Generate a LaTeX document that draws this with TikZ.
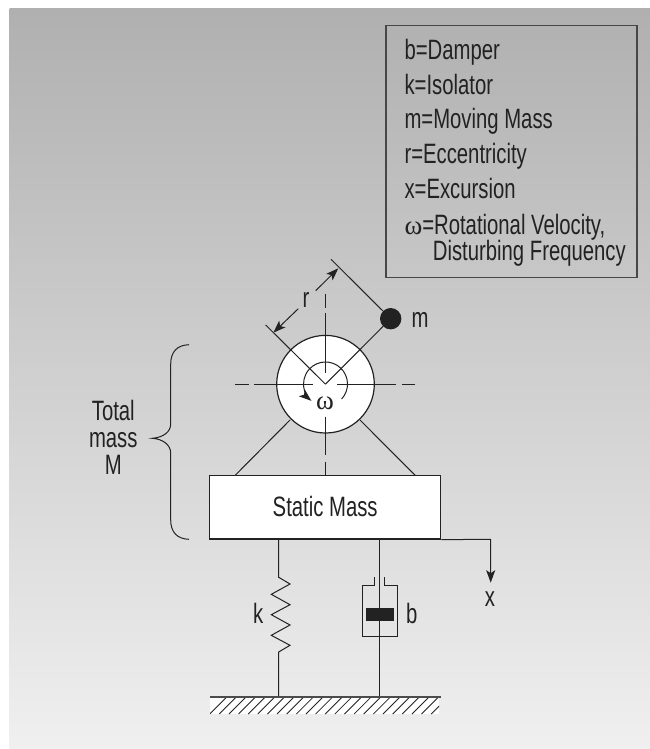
\documentclass[tikz,border=0pt]{standalone}
\usepackage{fontspec}
\setmainfont{Liberation Sans}[FakeStretch=0.725]
\newfontfamily\omegafont{Liberation Serif}
\usetikzlibrary{arrows.meta}
\definecolor{ink}{HTML}{222222}
\newcommand{\omg}{{\omegafont\fontsize{27}{27}\selectfont ω}}
\tikzset{
  line/.style={draw=ink,line width=1pt},
  tip/.style={-{Stealth[length=12.5pt,width=9pt,inset=3pt]}},
  lab/.style={text=ink,font=\fontsize{28}{28}\selectfont,inner sep=0pt,anchor=base},
  key/.style={lab,anchor=base west}
}
\begin{document}
\begin{tikzpicture}[x=1pt,y=-1pt]
\useasboundingbox (0,0) rectangle (650,749);
\fill[white] (0,0) rectangle (650,749);
% panel with vertical gradient
\shade[top color=black!31,bottom color=black!6] (9.5,8.5) rectangle (650,749);
% legend
\node[draw=black!72,line width=1.2pt,minimum width=251pt,minimum height=251.7pt,inner sep=0pt,anchor=north west] (legend) at (385.3,25) {};
\node[key] (kb) at (404.3,60) {b=Damper};
\node[key] (kk) at (404.3,94.3) {k=Isolator};
\node[key] (km) at (404.3,128.7) {m=Moving Mass};
\node[key] (kr) at (404.3,163.3) {r=Eccentricity};
\node[key] (kx) at (404.3,198.3) {x=Excursion};
\node[key] (kw) at (404.3,234) {\omg=Rotational Velocity,};
\node[key] (kd) at (432.7,260) {Disturbing Frequency};
% static mass
\node[draw=ink,fill=white,line width=1.2pt,minimum width=231pt,minimum height=63.3pt,inner sep=0pt] (mass) at (325.2,507.4) {};
\node[lab] (massLabel) at (325.2,516.7) {Static Mass};
% rotor supports
\coordinate (supLa) at (290,420); \coordinate (supLb) at (235,475.5);
\coordinate (supRa) at (360,420); \coordinate (supRb) at (415.3,475.5);
\draw[line] (supLa) -- (supLb);
\draw[line] (supRa) -- (supRb);
% rotor
\node[circle,draw=ink,fill=white,line width=1.2pt,minimum size=97.6pt,inner sep=0pt] (rotor) at (325.5,384.2) {};
% centre lines
\coordinate (hTopA) at (325.3,294.3); \coordinate (hTopB) at (325.3,308.3);
\coordinate (hTopC) at (325.3,313.3); \coordinate (hTopD) at (325.3,372.7);
\coordinate (hBotA) at (325.3,416.7); \coordinate (hBotB) at (325.3,455);
\coordinate (hBotC) at (325.3,461.7); \coordinate (hBotD) at (325.3,475);
\draw[line] (hTopA) -- (hTopB);
\draw[line] (hTopC) -- (hTopD);
\draw[line] (hBotA) -- (hBotB);
\draw[line] (hBotC) -- (hBotD);
\coordinate (wa) at (235,384.2); \coordinate (wb) at (249,384.2);
\coordinate (wc) at (254.3,384.2); \coordinate (wd) at (312.7,384.2);
\coordinate (ea) at (337.3,384.2); \coordinate (eb) at (396,384.2);
\coordinate (ec) at (401.7,384.2); \coordinate (ed) at (415,384.2);
\draw[line] (wa) -- (wb);
\draw[line] (wc) -- (wd);
\draw[line] (ea) -- (eb);
\draw[line] (ec) -- (ed);
% eccentric arms
\node[circle,fill=ink,minimum size=21.4pt,inner sep=0pt] (ball) at (390.7,318.7) {};
\coordinate (tickL) at (265.7,325);
\coordinate (tickR) at (331,259.3);
\draw[line] (rotor.center) -- (tickL);
\draw[line] (rotor.center) -- (ball);
\draw[line] (tickR) -- (ball);
% r dimension
\node[lab] (r) at (306,307.3) {r};
\coordinate (rUa) at (315.7,290.7); \coordinate (rUb) at (338.3,268.3);
\coordinate (rLa) at (298.3,308.7); \coordinate (rLb) at (273.3,332.7);
\draw[line,tip] (rUa) -- (rUb);
\draw[line,tip] (rLa) -- (rLb);
\node[lab] (m) at (420,327.7) {m};
% rotation
\draw[line,tip] (341.6,399) arc[start angle=-43,end angle=230,radius=22pt];
\node[lab] (w) at (325,409.3) {\omg};
% brace
\coordinate (brTop) at (189,344.7); \coordinate (brTip) at (152.3,438.3); \coordinate (brBot) at (189,539.3);
\draw[line] (brTop) .. controls (177,345) and (170.7,352) .. (170.7,364) -- (170.7,424)
  .. controls (170.7,432) and (163,437.5) .. (brTip)
  .. controls (163,439) and (170.7,445) .. (170.7,453) -- (170.7,520)
  .. controls (170.7,532) and (177,539) .. (brBot);
\node[lab] (tot) at (113.3,420.7) {Total};
\node[lab] (mss) at (113.3,447.3) {mass};
\node[lab] (bigm) at (113.3,474.3) {M};
% spring
\coordinate (sprA) at (278.7,539.3); \coordinate (sprZ) at (278.7,696.7);
\draw[line] (sprA) -- (278.7,577.3) -- (290,584) -- (271.3,594.3) -- (290,604.7) -- (271.3,614.7) -- (290,625) -- (271.3,635.3) -- (290,645.3) -- (278.7,652) -- (sprZ);
\node[lab] (k) at (258.3,623.5) {k};
% damper
\coordinate (rodA) at (379.7,539.3); \coordinate (rodZ) at (379.7,696.7);
\draw[line] (rodA) -- (rodZ);
\draw[line,line join=miter] (374.7,577.3) -- (374.7,585.7) -- (362,585.7) -- (362,636) -- (397.3,636) -- (397.3,585.7) -- (384.7,585.7) -- (384.7,577.3);
\fill[ink] (366,608) rectangle (394,621);
\node[lab] (b) at (411.7,623.8) {b};
% excursion
\coordinate (xCorner) at (490.7,539.3); \coordinate (xTip) at (490.7,582.7);
\draw[line,tip] (mass.south east) -- (xCorner) -- (xTip);
\node[lab] (x) at (490,606) {x};
% ground
\fill[white] (210,697) rectangle (439,714);
\begin{scope}
\clip (210,697) rectangle (439,714);
\foreach \i in {-1,...,24} \draw[draw=ink,line width=0.85pt] (219.3+9.63*\i,714) -- ++(17,-17);
\end{scope}
\coordinate (gndL) at (210,697); \coordinate (gndR) at (440.7,697);
\draw[draw=black!70,line width=1.2pt] (gndL) -- (gndR);
\end{tikzpicture}
\end{document}
